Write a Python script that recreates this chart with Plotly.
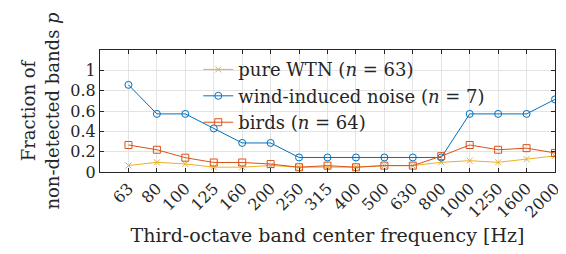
import plotly.graph_objects as go

freqs = ["63", "80", "100", "125", "160", "200", "250", "315", "400", "500",
         "630", "800", "1000", "1250", "1600", "2000"]
wtn = [4/63, 6/63, 5/63, 3/63, 3/63, 4/63, 3/63, 3/63, 3/63, 4/63,
       4/63, 6/63, 7/63, 6/63, 8/63, 10/63]
wind = [6/7, 4/7, 4/7, 3/7, 2/7, 2/7, 1/7, 1/7, 1/7, 1/7,
        1/7, 1/7, 4/7, 4/7, 4/7, 5/7]
birds = [17/64, 14/64, 9/64, 6/64, 6/64, 5/64, 3/64, 4/64, 3/64, 4/64,
         4/64, 10/64, 17/64, 14/64, 15/64, 12/64]
names = ["pure WTN (<i>n</i> = 63)", "wind-induced noise (<i>n</i> = 7)",
         "birds (<i>n</i> = 64)"]
yticks = [0, 0.2, 0.4, 0.6, 0.8, 1]
ytext = ["0", "0.2", "0.4", "0.6", "0.8", "1"]

idx = list(range(1, len(freqs) + 1))
font = "DejaVu Serif"
dark = "#262626"

fig = go.Figure()
fig.add_trace(go.Scatter(x=idx, y=wtn, name=names[0], mode="lines+markers",
                         line=dict(color="#EDB120", width=1),
                         marker=dict(symbol="x-thin-open", size=6,
                                     line=dict(color="#EDB120", width=1))))
fig.add_trace(go.Scatter(x=idx, y=wind, name=names[1], mode="lines+markers",
                         line=dict(color="#0072BD", width=1),
                         marker=dict(symbol="circle-open", size=7,
                                     line=dict(color="#0072BD", width=1))))
fig.add_trace(go.Scatter(x=idx, y=birds, name=names[2], mode="lines+markers",
                         line=dict(color="#D95319", width=1),
                         marker=dict(symbol="square-open", size=7,
                                     line=dict(color="#D95319", width=1))))

axis_common = dict(showline=True, linecolor=dark, linewidth=1, mirror="ticks",
                   ticks="inside", ticklen=4, tickcolor=dark,
                   showgrid=True, gridcolor="#e3e3e3", gridwidth=1,
                   zeroline=False, automargin=False,
                   tickfont=dict(family=font, size=16, color=dark))

# page body has an 8px default margin, so the figure is 8px smaller
fig.update_layout(
    width=558, height=246,
    margin=dict(l=92, r=11, t=42, b=82),
    paper_bgcolor="white", plot_bgcolor="white",
    font=dict(family=font, color=dark),
    showlegend=True,
    legend=dict(x=0.216, y=0.99, xanchor="left", yanchor="top",
                bgcolor="rgba(255,255,255,0)", borderwidth=0,
                font=dict(family=font, size=18, color=dark),
                itemwidth=30, tracegroupgap=0),
    xaxis=dict(range=[0, 16], tickmode="array", tickvals=idx, ticktext=freqs,
               tickangle=-45,
               title=dict(text="Third-octave band center frequency [Hz]",
                          font=dict(family=font, size=19, color=dark),
                          standoff=8),
               **axis_common),
    yaxis=dict(range=[0, 1.2], tickmode="array", tickvals=yticks, ticktext=ytext,
               title=dict(text="Fraction of<br>non-detected bands <i>p</i>",
                          font=dict(family=font, size=18, color=dark),
                          standoff=6),
               **axis_common),
)

fig.write_html("out.html")
